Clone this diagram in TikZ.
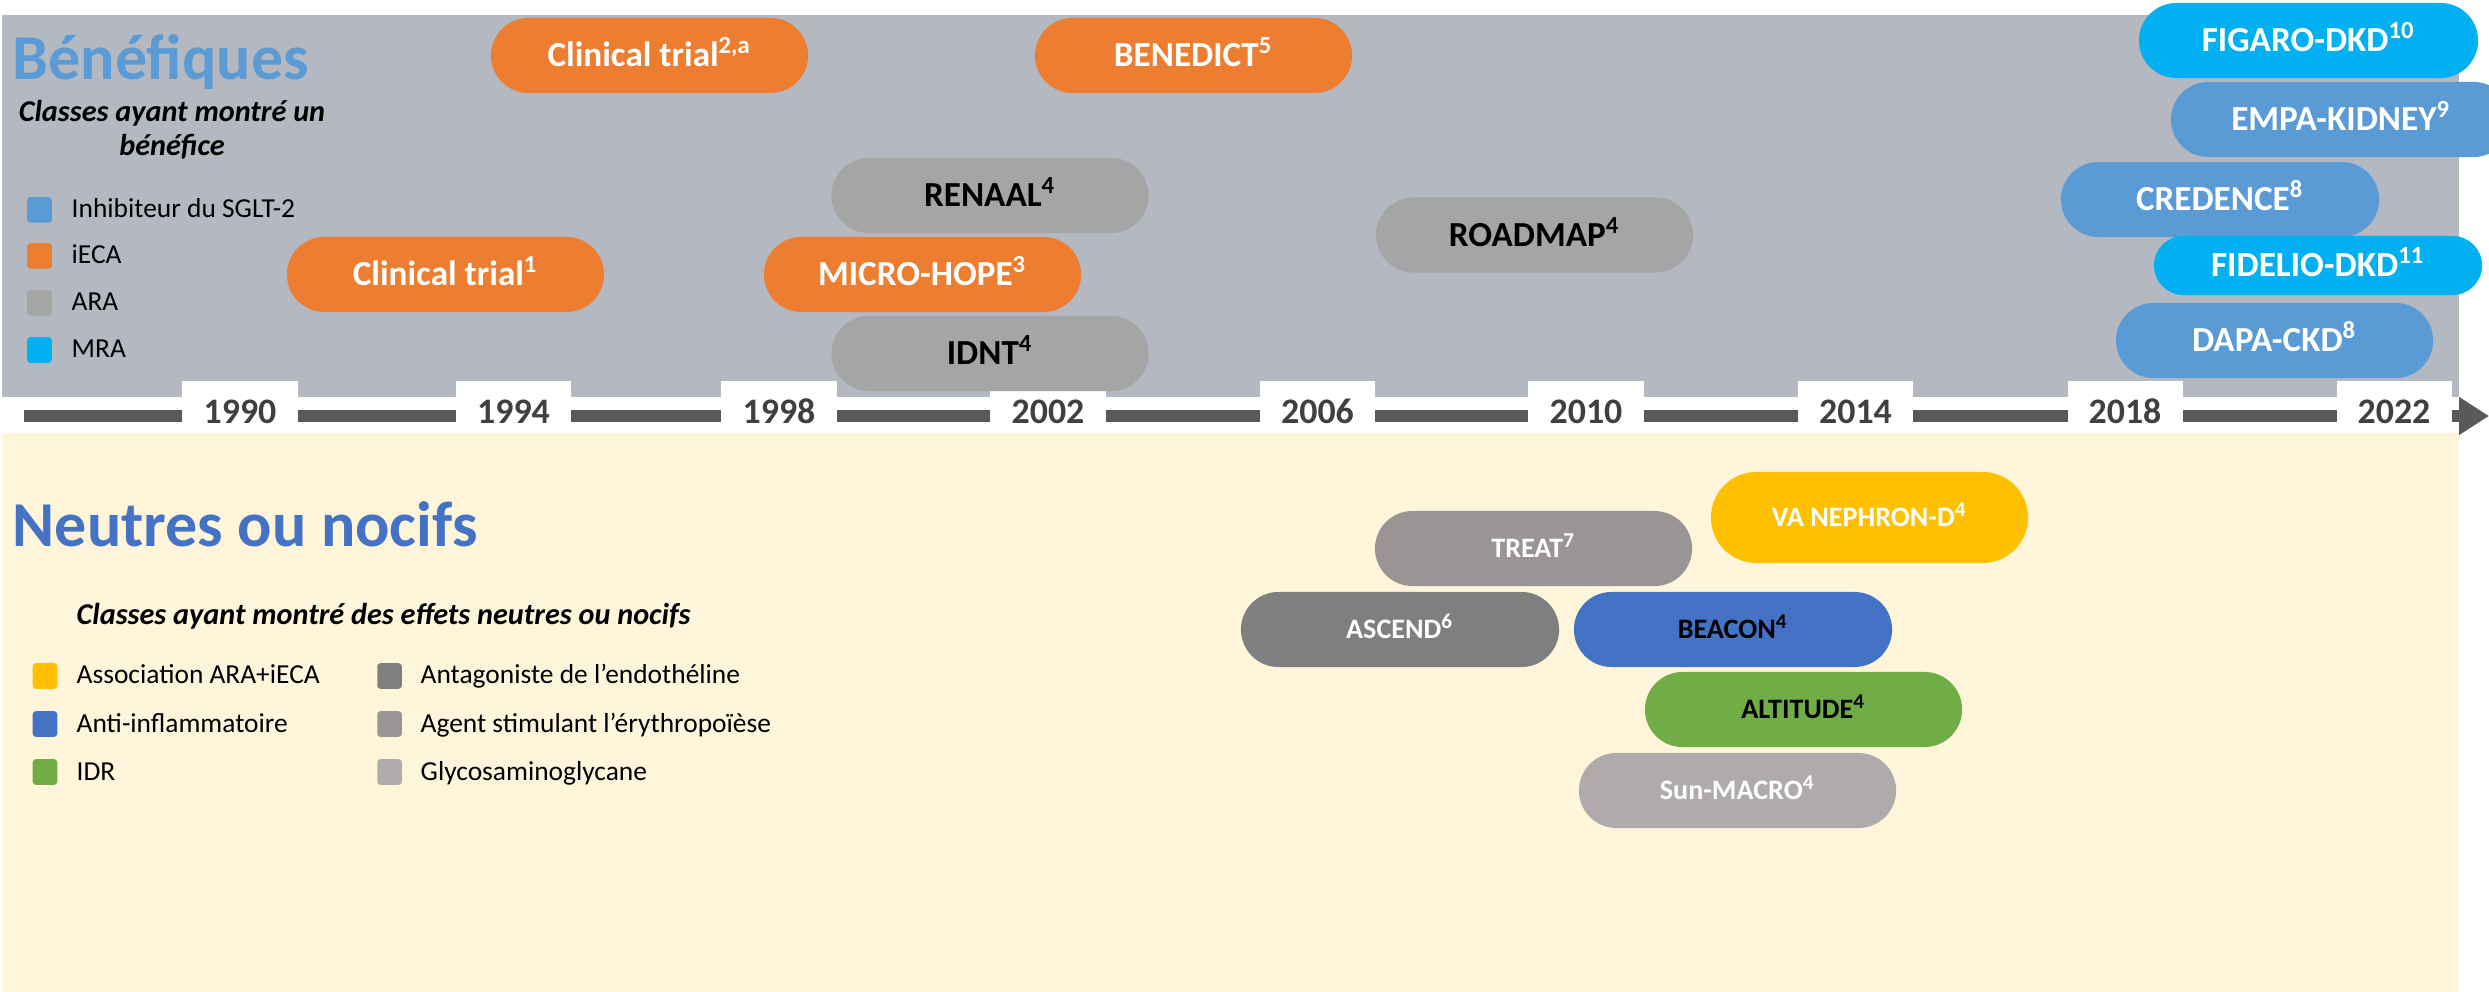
\documentclass[tikz,border=0pt]{standalone}
\usepackage{fontspec}
\setmainfont{Carlito}
\usetikzlibrary{shapes.misc,arrows.meta}

\definecolor{panelgray}{HTML}{B4B8C1}
\definecolor{panelcream}{HTML}{FFF5DA}
\definecolor{iecaorange}{HTML}{ED7D31}
\definecolor{sgltblue}{HTML}{5B9BD5}
\definecolor{mracyan}{HTML}{00B0F0}
\definecolor{aragray}{HTML}{A5A5A5}
\definecolor{comboyellow}{HTML}{FFC000}
\definecolor{inflblue}{HTML}{4472C4}
\definecolor{idrgreen}{HTML}{70AD47}
\definecolor{endogray}{HTML}{7F7F7F}
\definecolor{esagray}{HTML}{989594}
\definecolor{gaggray}{HTML}{AFABAB}
\definecolor{axisgray}{HTML}{595959}
\definecolor{yeargray}{HTML}{404040}

\tikzset{
  pill/.style={shape=rounded rectangle, inner sep=0pt, minimum width=3.17cm,
    minimum height=0.75cm, text height=0.225cm, text depth=0pt,
    font=\fontsize{10pt}{12pt}\selectfont\bfseries},
  lowpill/.style={pill, text height=0.18cm,
    font=\fontsize{8pt}{10pt}\selectfont\bfseries},
  legsq/.style={rectangle, rounded corners=0.03cm, minimum width=0.245cm,
    minimum height=0.255cm, inner sep=0pt},
  legtxt/.style={anchor=base west, inner sep=0pt,
    font=\fontsize{7.8pt}{9.5pt}\selectfont},
  bigtitle/.style={anchor=base west, inner sep=0pt,
    font=\fontsize{18.2pt}{21pt}\selectfont\bfseries},
  subtitle/.style={anchor=base, inner sep=0pt,
    font=\fontsize{8.6pt}{10.5pt}\selectfont\bfseries\itshape},
  yearbox/.style={rectangle, fill=white, inner sep=0pt, minimum width=1.15cm,
    minimum height=0.52cm},
  yearlbl/.style={anchor=base, inner sep=0pt, text=yeargray,
    font=\fontsize{10.2pt}{12pt}\selectfont\bfseries},
}

\begin{document}
\begin{tikzpicture}[x=0.01cm, y=-0.01cm]
\useasboundingbox (0,0) rectangle (2489,992);
\fill[white] (0,0) rectangle (2489,992);

% the two panels
\fill[panelgray] (2,15) rectangle (2459,397);
\fill[panelcream] (2,433) rectangle (2459,992);

% time axis
\coordinate (axisstart) at (24,416);
\coordinate (axisend) at (2489,416);
\draw[axisgray, line width=0.125cm, -{Triangle[length=0.30cm, width=0.36cm]}]
  (axisstart) -- (axisend);

% year boxes and labels
\foreach \yr/\cx in {1990/240, 1994/513.5, 1998/779, 2002/1048, 2006/1317.5,
                     2010/1586, 2014/1855.5, 2018/2125, 2022/2394} {
  \node[yearbox] (box\yr) at (\cx,407) {};
  \node[yearlbl] (yr\yr) at (\cx,424) {\yr};
}

% upper panel: headings and legend
\node[bigtitle, text=sgltblue] (titleben) at (12,80) {Bénéfiques};
\node[subtitle] (subben1) at (172,122) {Classes ayant montré un};
\node[subtitle] (subben2) at (172,156) {bénéfice};

\node[legsq, fill=sgltblue] (sqsglt) at (39.5,210) {};
\node[legtxt] (txsglt) at (71,218) {Inhibiteur du SGLT-2};
\node[legsq, fill=iecaorange] (sqieca) at (39.5,256) {};
\node[legtxt] (txieca) at (71,264) {iECA};
\node[legsq, fill=aragray] (sqara) at (39.5,303) {};
\node[legtxt] (txara) at (71,311) {ARA};
\node[legsq, fill=mracyan] (sqmra) at (39.5,350) {};
\node[legtxt] (txmra) at (71,358) {MRA};

% upper panel: trials with a benefit
\node[pill, fill=iecaorange, text=white] (ct2) at (649.5,55.5) {Clinical trial\textsuperscript{2,a}};
\node[pill, fill=iecaorange, text=white] (benedict) at (1193.5,55.5) {BENEDICT\textsuperscript{5}};
\node[pill, fill=iecaorange, text=white] (ct1) at (445.5,274.5) {Clinical trial\textsuperscript{1}};
\node[pill, fill=aragray, text=black] (renaal) at (990,195.5) {RENAAL\textsuperscript{4}};
\node[pill, fill=iecaorange, text=white] (microhope) at (922.5,274.5) {MICRO-HOPE\textsuperscript{3}};
\node[pill, fill=aragray, text=black] (idnt) at (990,353.5) {IDNT\textsuperscript{4}};
\node[pill, fill=aragray, text=black] (roadmap) at (1534.5,235) {ROADMAP\textsuperscript{4}};
\node[pill, fill=mracyan, text=white, minimum width=3.39cm] (figaro) at (2308.5,40.5) {FIGARO-DKD\textsuperscript{10}};
\node[pill, fill=sgltblue, text=white, minimum width=3.40cm] (empa) at (2341,119.5) {EMPA-KIDNEY\textsuperscript{9}};
\node[pill, fill=sgltblue, text=white, minimum width=3.18cm] (credence) at (2220,199.5) {CREDENCE\textsuperscript{8}};
\node[pill, fill=mracyan, text=white, minimum width=3.28cm, minimum height=0.59cm] (fidelio) at (2318,265.5) {FIDELIO-DKD\textsuperscript{11}};
\node[pill, fill=sgltblue, text=white] (dapa) at (2274.5,340.5) {DAPA-CKD\textsuperscript{8}};

% lower panel: headings and legend
\node[bigtitle, text=inflblue] (titleneu) at (12,547) {Neutres ou nocifs};
\node[subtitle, anchor=base west] (subneu) at (76,625) {Classes ayant montré des effets neutres ou nocifs};

\node[legsq, fill=comboyellow] (sqcombo) at (45,676) {};
\node[legtxt] (txcombo) at (76,684) {Association ARA+iECA};
\node[legsq, fill=inflblue] (sqinfl) at (45,724) {};
\node[legtxt] (txinfl) at (76,732) {Anti-inflammatoire};
\node[legsq, fill=idrgreen] (sqidr) at (45,772) {};
\node[legtxt] (txidr) at (76,780) {IDR};
\node[legsq, fill=endogray] (sqendo) at (389.5,676) {};
\node[legtxt] (txendo) at (420,684) {Antagoniste de l’endothéline};
\node[legsq, fill=esagray] (sqesa) at (389.5,724) {};
\node[legtxt] (txesa) at (420,732) {Agent stimulant l’érythropoïèse};
\node[legsq, fill=gaggray] (sqgag) at (389.5,772) {};
\node[legtxt] (txgag) at (420,780) {Glycosaminoglycane};

% lower panel: neutral or harmful trials
\node[lowpill, fill=comboyellow, text=white, minimum height=0.91cm] (vanephron) at (1869.5,517.5) {VA NEPHRON-D\textsuperscript{4}};
\node[lowpill, fill=esagray, text=white] (treat) at (1533.5,548.5) {TREAT\textsuperscript{7}};
\node[lowpill, fill=endogray, text=white, minimum width=3.18cm] (ascend) at (1400,629.5) {ASCEND\textsuperscript{6}};
\node[lowpill, fill=inflblue, text=black, minimum width=3.18cm] (beacon) at (1733,629.5) {BEACON\textsuperscript{4}};
\node[lowpill, fill=idrgreen, text=black] (altitude) at (1803.5,709.5) {ALTITUDE\textsuperscript{4}};
\node[lowpill, fill=gaggray, text=white] (sunmacro) at (1737.5,790.5) {Sun-MACRO\textsuperscript{4}};
\end{tikzpicture}
\end{document}
